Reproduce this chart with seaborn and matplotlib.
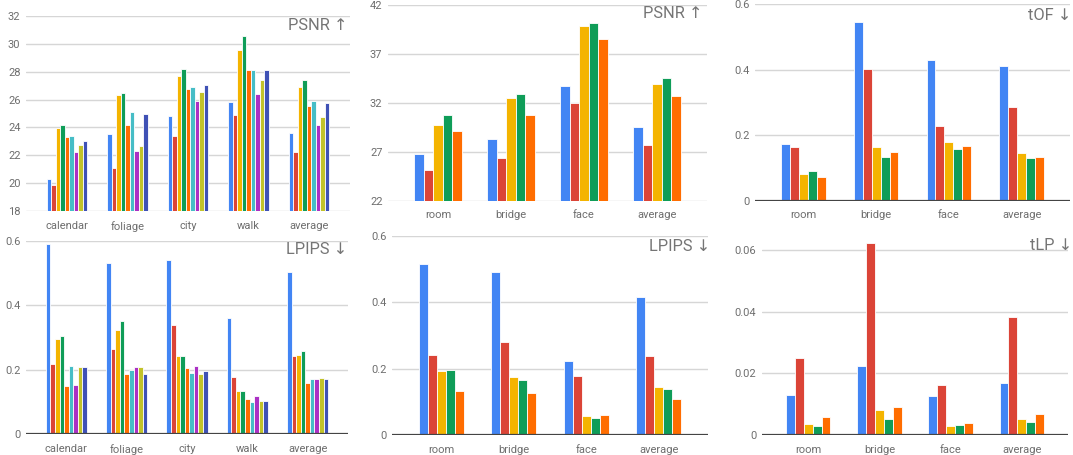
import numpy as np, pandas as pd
import matplotlib
matplotlib.use('Agg')
import matplotlib.pyplot as plt
import seaborn as sns

sns.set_style('white')
plt.rcParams['font.family'] = ['Roboto', 'DejaVu Sans']

W, H = 1073, 455

# ---------- data ----------
scenes_a = ['calendar', 'foliage', 'city', 'walk', 'average']
methods_a = ['m1', 'm2', 'm3', 'm4', 'm5', 'm6', 'm7', 'm8', 'm9']
psnr_a = [
    [20.30, 23.54, 24.79, 25.84, 23.61],
    [19.87, 21.12, 23.35, 24.86, 22.27],
    [23.95, 26.30, 27.69, 29.53, 26.90],
    [24.14, 26.44, 28.22, 30.59, 27.38],
    [23.30, 24.20, 26.78, 28.10, 25.53],
    [23.42, 25.12, 26.90, 28.14, 25.87],
    [22.22, 22.29, 25.87, 26.42, 24.14],
    [22.77, 22.70, 26.51, 27.38, 24.74],
    [23.04, 25.00, 27.02, 28.14, 25.77],
]
lpips_a = [
    [0.590, 0.532, 0.542, 0.362, 0.503],
    [0.219, 0.265, 0.339, 0.177, 0.244],
    [0.295, 0.324, 0.242, 0.134, 0.247],
    [0.306, 0.350, 0.242, 0.134, 0.259],
    [0.149, 0.188, 0.205, 0.109, 0.160],
    [0.211, 0.198, 0.191, 0.098, 0.171],
    [0.151, 0.208, 0.210, 0.118, 0.171],
    [0.208, 0.208, 0.185, 0.103, 0.174],
    [0.208, 0.188, 0.197, 0.103, 0.171],
]

scenes_b = ['room', 'bridge', 'face', 'average']
methods_b = ['m1', 'm2', 'm3', 'm4', 'm5']
psnr_b = [
    [26.78, 28.28, 33.71, 29.51],
    [25.14, 26.33, 32.03, 27.70],
    [29.71, 32.48, 39.88, 33.98],
    [30.74, 32.96, 40.16, 34.53],
    [29.17, 30.74, 38.52, 32.68],
]
lpips_b = [
    [0.515, 0.490, 0.222, 0.416],
    [0.240, 0.280, 0.178, 0.238],
    [0.192, 0.175, 0.056, 0.144],
    [0.197, 0.167, 0.050, 0.139],
    [0.134, 0.126, 0.059, 0.109],
]
tof_b = [
    [0.173, 0.547, 0.430, 0.411],
    [0.163, 0.402, 0.227, 0.285],
    [0.083, 0.163, 0.179, 0.146],
    [0.090, 0.134, 0.157, 0.129],
    [0.072, 0.148, 0.166, 0.134],
]
tlp_b = [
    [0.0131, 0.0223, 0.0125, 0.0169],
    [0.0249, 0.0623, 0.0161, 0.0383],
    [0.0035, 0.0080, 0.0029, 0.0052],
    [0.0029, 0.0052, 0.0031, 0.0041],
    [0.0058, 0.0090, 0.0038, 0.0067],
]

palette = ['#4285f4', '#db4437', '#f4b400', '#0f9d58', '#ff6d00',
           '#46bdc6', '#ab30c4', '#c2c22a', '#3f51b5']


def long_df(vals, scenes, methods):
    rows = [(s, m, v) for m, row in zip(methods, vals) for s, v in zip(scenes, row)]
    return pd.DataFrame(rows, columns=['scene', 'method', 'value'])


def px_axes(l, t, r, b):
    return fig.add_axes([l / W, 1 - b / H, (r - l) / W, (b - t) / H])


def panel(ax, df, methods, ylim, ticks, title, tx, ty, zero_base, width=0.65, pad=0.68):
    sns.barplot(data=df, x='scene', y='value', hue='method', hue_order=methods,
                palette=palette[:len(methods)], width=width, saturation=1,
                edgecolor='white', linewidth=0.6, legend=False, ax=ax)
    n = df['scene'].nunique()
    ax.set_xlim(-pad, n - 1 + pad)
    ax.set_ylim(*ylim)
    ax.set_yticks(ticks)
    ax.set_yticklabels([f'{t:g}' for t in ticks])
    ax.yaxis.grid(True, color='#d6d6d6', lw=1)
    ax.set_axisbelow(True)
    for s in ax.spines.values():
        s.set_visible(False)
    if zero_base:
        ax.axhline(0, color='#444444', lw=1.6, zorder=5)
    ax.tick_params(length=0, labelsize=8, labelcolor='#6e6e6e')
    ax.tick_params(axis='y', pad=4)
    ax.tick_params(axis='x', pad=7)
    ax.set_xlabel(''); ax.set_ylabel('')
    fig.text(tx / W, 1 - ty / H, title, ha='right', va='center',
             fontsize=11.8, color='#757575', family=['Roboto', 'DejaVu Sans'])


fig = plt.figure(figsize=(W / 100, H / 100), dpi=100)

ax = px_axes(26, 16, 350, 211)
panel(ax, long_df(psnr_a, scenes_a, methods_a), methods_a, (18, 32),
      [18, 20, 22, 24, 26, 28, 30, 32], 'PSNR ↑', 348, 26, False, width=0.67, pad=0.68)

ax = px_axes(26, 241, 348, 434)
panel(ax, long_df(lpips_a, scenes_a, methods_a), methods_a, (0, 0.6),
      [0, 0.2, 0.4, 0.6], 'LPIPS ↓', 347, 249, True, width=0.68, pad=0.67)

ax = px_axes(388, 5.3, 707, 200.7)
panel(ax, long_df(psnr_b, scenes_b, methods_b), methods_b, (22, 42),
      [22, 27, 32, 37, 42], 'PSNR ↑', 703, 14, False, width=0.66, pad=0.685)

ax = px_axes(392, 236, 708, 435)
panel(ax, long_df(lpips_b, scenes_b, methods_b), methods_b, (0, 0.6),
      [0, 0.2, 0.4, 0.6], 'LPIPS ↓', 710, 247, True, width=0.62, pad=0.68)

ax = px_axes(755, 4.3, 1070, 200.7)
panel(ax, long_df(tof_b, scenes_b, methods_b), methods_b, (0, 0.6),
      [0, 0.2, 0.4, 0.6], 'tOF ↓', 1072, 15, True, width=0.615, pad=0.665)

ax = px_axes(762, 236, 1068, 435)
panel(ax, long_df(tlp_b, scenes_b, methods_b), methods_b, (0, 0.0645),
      [0, 0.02, 0.04, 0.06], 'tLP ↓', 1072, 246, True, width=0.625, pad=0.65)

fig.savefig('out.png', dpi=100)
